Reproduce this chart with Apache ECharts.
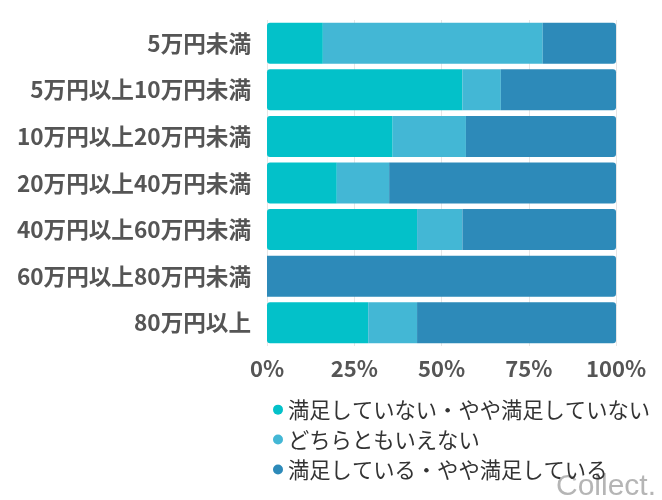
<!DOCTYPE html>
<html>
<head>
<meta charset="utf-8">
<script src="https://cdn.jsdelivr.net/npm/echarts@6/dist/echarts.min.js"></script>
<style>
  html, body { margin: 0; padding: 0; background: #fff; }
  #chart { width: 662px; height: 500px; }
</style>
</head>
<body>
<div id="chart"></div>
<script>
const categories = ['5万円未満', '5万円以上10万円未満', '10万円以上20万円未満', '20万円以上40万円未満', '40万円以上60万円未満', '60万円以上80万円未満', '80万円以上']
const seriesNames = ['満足していない・やや満足していない', 'どちらともいえない', '満足している・やや満足している']
const notSatisfied = [16, 56, 36, 20, 43, 0, 29]
const neutral = [63, 11, 21, 15, 13, 0, 14]
const satisfied = [21, 33, 43, 65, 44, 100, 57]
const xTicks = [0, 25, 50, 75, 100]

const colors = ['#03c1c9', '#43b7d5', '#2d8ab9']
const values = [notSatisfied, neutral, satisfied]

const labelFont = '"Noto Sans CJK JP", "Noto Sans", sans-serif'

const chart = echarts.init(document.getElementById('chart'))

const option = {
  backgroundColor: '#fff',
  animation: false,
  grid: {
    left: 267,
    right: 46,
    top: 20,
    bottom: 154,
    containLabel: false
  },
  xAxis: {
    type: 'value',
    min: xTicks[0],
    max: xTicks[xTicks.length - 1],
    interval: 25,
    axisLine: { show: false },
    axisTick: { show: false },
    splitLine: { show: true, lineStyle: { color: '#e6e6e6', width: 1 } },
    axisLabel: {
      formatter: '{value}%',
      color: '#555',
      fontSize: 22,
      fontWeight: 'bold',
      fontFamily: labelFont,
      margin: 12
    }
  },
  yAxis: {
    type: 'category',
    data: categories,
    inverse: true,
    axisLine: { show: false },
    axisTick: { show: false },
    axisLabel: {
      color: '#555',
      fontSize: 22.6,
      fontWeight: 'bold',
      fontFamily: labelFont,
      margin: 16
    }
  },
  legend: {
    orient: 'vertical',
    left: 268,
    top: 394,
    icon: 'circle',
    itemWidth: 10,
    itemHeight: 10,
    itemGap: 8.6,
    textStyle: {
      color: '#333',
      fontSize: 21.3,
      fontFamily: labelFont
    },
    data: seriesNames
  },
  series: seriesNames.map((name, i) => ({
    name: name,
    type: 'bar',
    stack: 'total',
    barCategoryGap: '12%',
    itemStyle: { color: colors[i], borderRadius: i === 2 ? [0, 3, 3, 0] : (i === 0 ? [3, 0, 0, 3] : 0) },
    data: values[i]
  })),
  graphic: [
    {
      type: 'text',
      right: 6,
      bottom: -2,
      style: {
        text: 'Collect.',
        fill: '#b5b5b5',
        fontSize: 30,
        fontFamily: '"Liberation Sans", Arial, sans-serif'
      }
    }
  ]
}

chart.setOption(option)
</script>
</body>
</html>
